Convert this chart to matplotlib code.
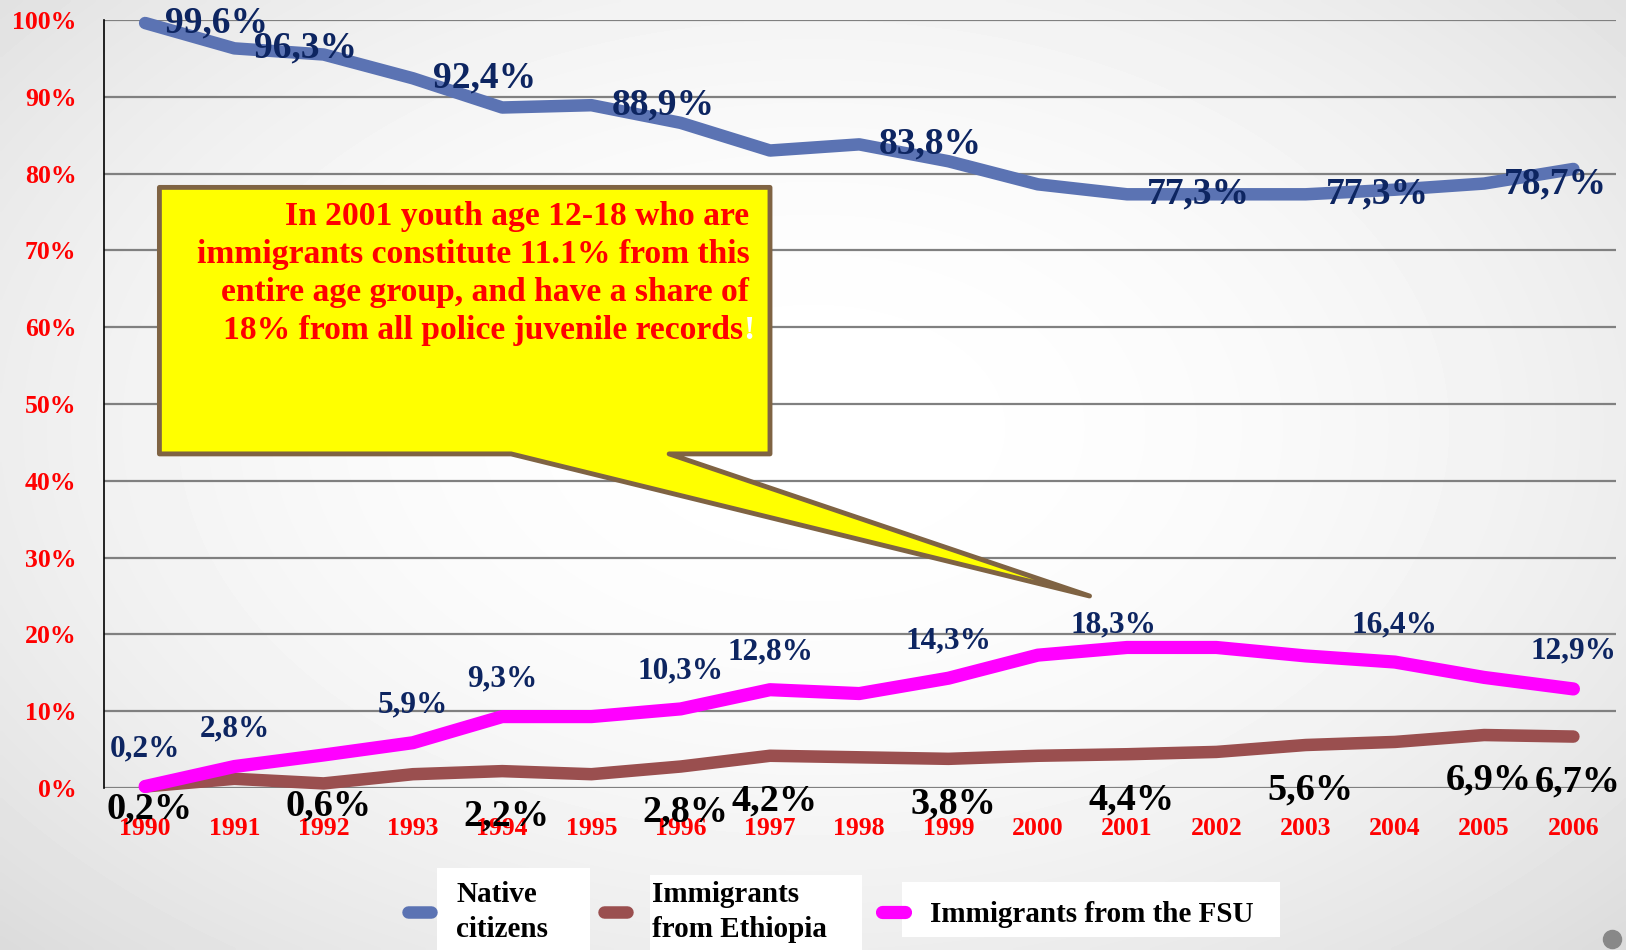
import matplotlib.pyplot as plt
import numpy as np
from matplotlib.patches import Polygon, Rectangle
from matplotlib.lines import Line2D

plt.rcParams['font.family'] = ['Liberation Serif', 'DejaVu Serif']

years = ['1990', '1991', '1992', '1993', '1994', '1995', '1996', '1997', '1998',
         '1999', '2000', '2001', '2002', '2003', '2004', '2005', '2006']
native = [99.6, 96.3, 95.5, 92.4, 88.6, 88.9, 86.6, 83.0, 83.8,
          81.6, 78.6, 77.3, 77.3, 77.3, 77.9, 78.7, 80.6]
ethiopia = [0.2, 1.2, 0.6, 1.8, 2.2, 1.8, 2.8, 4.2, 4.0,
            3.8, 4.2, 4.4, 4.7, 5.6, 6.0, 6.9, 6.7]
fsu = [0.2, 2.8, 4.3, 5.9, 9.3, 9.3, 10.3, 12.8, 12.3,
       14.3, 17.3, 18.3, 18.3, 17.2, 16.4, 14.4, 12.9]

# which points carry a value label
native_lbl = ['1990', '1991', '1993', '1995', '1998', '2001', '2003', '2005']
ethiopia_lbl = ['1990', '1992', '1994', '1996', '1997', '1999', '2001', '2003', '2005', '2006']
fsu_lbl = ['1990', '1991', '1993', '1994', '1996', '1997', '1999', '2001', '2004', '2006']

names = ['Native\ncitizens', 'Immigrants\nfrom Ethiopia', 'Immigrants from the FSU']
note = ['In 2001 youth age 12-18 who are',
        'immigrants constitute 11.1% from this',
        'entire age group, and have a share of',
        '18% from all police juvenile records']

c_native = '#5b73b3'
c_eth = '#9a4f4f'
c_fsu = '#ff00ff'
navy = '#0d2561'
red = '#ff0000'

fig = plt.figure(figsize=(16.26, 9.5), dpi=100)

# slide background: soft radial grey
bg = fig.add_axes([0, 0, 1, 1], zorder=-10)
gx, gy = np.meshgrid(np.linspace(-1, 1, 400), np.linspace(-1, 1, 240))
r2 = gx**2 + ((gy + 0.1) / 1.1)**2
bg.imshow(1 - 0.07 * r2, cmap='gray', vmin=0, vmax=1, aspect='auto',
          extent=[0, 1, 0, 1], interpolation='bilinear')
bg.axis('off')

ax = fig.add_axes([0.064, 0.1705, 0.93, 0.8085])
ax.patch.set_alpha(0)
x = np.arange(len(years))

l1, = ax.plot(x, native, color=c_native, lw=9, solid_capstyle='round',
              solid_joinstyle='round', clip_on=False, zorder=3)
l2, = ax.plot(x, ethiopia, color=c_eth, lw=9, solid_capstyle='round',
              solid_joinstyle='round', clip_on=False, zorder=3)
l3, = ax.plot(x, fsu, color=c_fsu, lw=9.5, solid_capstyle='round',
              solid_joinstyle='round', clip_on=False, zorder=4)

ax.set_xlim(-0.46, 16.48)
ax.set_ylim(0, 100)
ax.set_yticks(range(0, 101, 10))
ax.set_yticklabels([f'{v}%' for v in range(0, 101, 10)])
ax.set_xticks(x)
ax.set_xticklabels(years)
ax.tick_params(axis='both', length=0, labelcolor=red, labelsize=18.5)
ax.tick_params(axis='y', pad=20)
ax.tick_params(axis='x', pad=21)
for t in ax.get_xticklabels() + ax.get_yticklabels():
    t.set_fontweight('bold')
ax.yaxis.grid(True, color='#808080', lw=1.6)
ax.set_axisbelow(True)
for s in ['top', 'right', 'bottom']:
    ax.spines[s].set_visible(False)
ax.spines['left'].set_linewidth(1.2)

# value labels
for yr in native_lbl:
    i = years.index(yr)
    ax.text(i + 0.8, native[i], f'{native[i]:.1f}%'.replace('.', ','), color=navy,
            fontsize=27, fontweight='bold', ha='center', va='center', zorder=6)
for yr in fsu_lbl:
    i = years.index(yr)
    dy, dx = (2.9, -0.15) if yr == '2001' else (4.9, 0)
    ax.text(i + dx, fsu[i] + dy, f'{fsu[i]:.1f}%'.replace('.', ','), color=navy,
            fontsize=22.5, fontweight='bold', ha='center', va='center', zorder=6)
for yr in ethiopia_lbl:
    i = years.index(yr)
    dy = 2.9 if yr in ('1990', '1992') else 5.9
    ax.text(i + 0.05, ethiopia[i] - dy, f'{ethiopia[i]:.1f}%'.replace('.', ','),
            color='black', fontsize=27.5, fontweight='bold', ha='center',
            va='center', zorder=6, clip_on=False)

# callout box pointing at 2001
box = Polygon([(0.16, 78.2), (7.0, 78.2), (7.0, 43.5), (5.87, 43.5),
               (10.58, 25.0), (4.10, 43.5), (0.16, 43.5)],
              closed=True, facecolor='#ffff00', edgecolor='#7f6343',
              lw=3.5, joinstyle='round', zorder=5)
ax.add_patch(box)
for k, line in enumerate(note):
    t = ax.text(6.77, 74.45 - 4.97 * k, line, color=red, fontsize=24.2,
                fontweight='bold', ha='right', va='center', zorder=7)
ax.annotate('!', xy=(1, 0.5), xycoords=t, color='white', fontsize=24.2,
            fontweight='bold', ha='left', va='center', zorder=7)
t.set_x(6.70)

# legend with white patches behind labels
for rx, ry, rw, rh in [(437, 868, 153, 82), (650, 875, 212, 75), (902, 882, 378, 55)]:
    fig.patches.append(Rectangle((rx / 1626, 1 - (ry + rh) / 950), rw / 1626, rh / 950,
                                 transform=fig.transFigure, facecolor='white',
                                 edgecolor='none', zorder=-5))
leg = fig.legend([l1, l2, l3], names, loc='center', bbox_to_anchor=(0.511, 0.04), ncol=3,
                 frameon=False, handlelength=0.8, columnspacing=1.9, handletextpad=0.85,
                 prop={'size': 21, 'weight': 'bold'}, labelspacing=0.1)
for t in leg.get_texts():
    t.set_linespacing(1.35)

fig.add_artist(Line2D([1611.5 / 1626], [1 - 939 / 950], marker='o', ms=13,
                      color='#888888', transform=fig.transFigure))

fig.savefig('out.png', dpi=100)
